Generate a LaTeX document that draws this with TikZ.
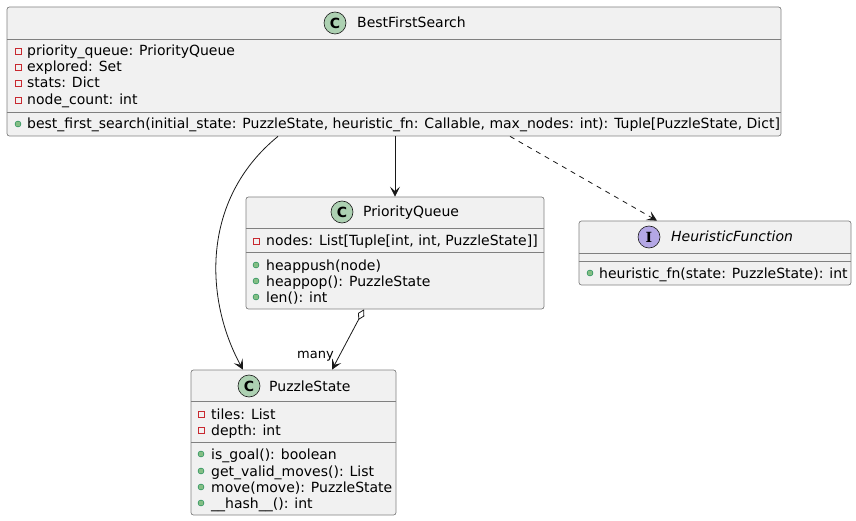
\documentclass[tikz,border=0pt]{standalone}
\usepackage{fontspec}
\setmainfont{DejaVu Sans}
\newfontfamily\spotserif{DejaVu Serif}
\usetikzlibrary{arrows.meta}
\definecolor{boxfill}{HTML}{F1F1F1}
\definecolor{boxline}{HTML}{181818}
\definecolor{spotc}{HTML}{ADD1B2}
\definecolor{spoti}{HTML}{B4A7E5}
\definecolor{privred}{HTML}{C82930}
\definecolor{pubfill}{HTML}{84BE84}
\definecolor{publine}{HTML}{038048}

\begin{document}
\begin{tikzpicture}[x=1pt, y=-1pt,
    classbox/.style={draw=boxline!55, line width=0.7pt, fill=boxfill, rounded corners=2.5pt, inner sep=0pt},
    sepline/.style={draw=boxline!55, line width=0.7pt},
    spot/.style={circle, draw=boxline, line width=0.6pt, minimum size=22pt, inner sep=0pt, font=\fontsize{14}{14}\selectfont\bfseries},
    title/.style={anchor=base west, inner sep=0pt, font=\fontsize{14}{16}\selectfont},
    member/.style={anchor=base west, inner sep=0pt, font=\fontsize{14}{16}\selectfont},
    priv/.style={rectangle, draw=privred, line width=0.6pt, minimum size=6pt, inner sep=0pt},
    pub/.style={circle, draw=publine, fill=pubfill, line width=0.4pt, minimum size=6pt, inner sep=0pt},
    assoc/.style={draw=boxline, line width=0.8pt, -{Stealth[length=10pt, width=10pt, inset=4.5pt]}},
    aggr/.style={draw=boxline, line width=0.8pt, {Diamond[open, length=12pt, width=7pt]}-{Stealth[length=10pt, width=10pt, inset=4.5pt]}}
  ]
    \useasboundingbox (0,0) rectangle (856,521);

    % Clases
    \node[classbox, minimum width=774pt, minimum height=129pt] (bfs) at (394,71.5) {};
    \draw[sepline] (bfs.west |- 0,39) -- (bfs.east |- 0,39);
    \draw[sepline] (bfs.west |- 0,112) -- (bfs.east |- 0,112);
    \node[spot, fill=spotc] (bfs-c) at (335,23) {C};
    \node[title] (bfs-t) at (357,28) {BestFirstSearch};
    \node[priv] (bfs-i1) at (18,51) {};
    \node[member] (bfs-a1) at (27,56) {priority\_queue: PriorityQueue};
    \node[priv] (bfs-i2) at (18,67) {};
    \node[member] (bfs-a2) at (27,72) {explored: Set};
    \node[priv] (bfs-i3) at (18,83) {};
    \node[member] (bfs-a3) at (27,88) {stats: Dict};
    \node[priv] (bfs-i4) at (18,100) {};
    \node[member] (bfs-a4) at (27,105) {node\_count: int};
    \node[pub] (bfs-i5) at (18,124) {};
    \node[member] (bfs-m1) at (27,129) {best\_first\_search(initial\_state: PuzzleState, heuristic\_fn: Callable, max\_nodes: int): Tuple[PuzzleState, Dict]};

    \node[classbox, minimum width=298pt, minimum height=112pt] (pq) at (395,253) {};
    \draw[sepline] (pq.west |- 0,228) -- (pq.east |- 0,228);
    \draw[sepline] (pq.west |- 0,252) -- (pq.east |- 0,252);
    \node[spot, fill=spotc] (pq-c) at (342,212) {C};
    \node[title] (pq-t) at (363,217) {PriorityQueue};
    \node[priv] (pq-i1) at (256,241) {};
    \node[member] (pq-a1) at (266,246) {nodes: List[Tuple[int, int, PuzzleState]]};
    \node[pub] (pq-i2) at (256,265) {};
    \node[member] (pq-m1) at (266,270) {heappush(node)};
    \node[pub] (pq-i3) at (256,281) {};
    \node[member] (pq-m2) at (266,286) {heappop(): PuzzleState};
    \node[pub] (pq-i4) at (256,297) {};
    \node[member] (pq-m3) at (266,302) {len(): int};

    \node[classbox, minimum width=205pt, minimum height=145pt] (ps) at (293.5,442.5) {};
    \draw[sepline] (ps.west |- 0,401) -- (ps.east |- 0,401);
    \draw[sepline] (ps.west |- 0,442) -- (ps.east |- 0,442);
    \node[spot, fill=spotc] (ps-c) at (249,386) {C};
    \node[title] (ps-t) at (269,391) {PuzzleState};
    \node[priv] (ps-i1) at (201,414) {};
    \node[member] (ps-a1) at (211,419) {tiles: List};
    \node[priv] (ps-i2) at (201,430) {};
    \node[member] (ps-a2) at (211,435) {depth: int};
    \node[pub] (ps-i3) at (201,454) {};
    \node[member] (ps-m1) at (211,459) {is\_goal(): boolean};
    \node[pub] (ps-i4) at (201,471) {};
    \node[member] (ps-m2) at (211,476) {get\_valid\_moves(): List};
    \node[pub] (ps-i5) at (201,487) {};
    \node[member] (ps-m3) at (211,492) {move(move): PuzzleState};
    \node[pub] (ps-i6) at (201,503) {};
    \node[member] (ps-m4) at (211,508) {\_\_hash\_\_(): int};

    \node[classbox, minimum width=272pt, minimum height=64pt] (hf) at (715,253) {};
    \draw[sepline] (hf.west |- 0,253) -- (hf.east |- 0,253);
    \draw[sepline] (hf.west |- 0,261) -- (hf.east |- 0,261);
    \node[spot, fill=spoti, font=\fontsize{14}{14}\spotserif\bfseries] (hf-c) at (649,237) {I};
    \node[title, font=\fontsize{14}{16}\selectfont\itshape] (hf-t) at (671,242) {HeuristicFunction};
    \node[pub] (hf-i1) at (590,273) {};
    \node[member] (hf-m1) at (599,278) {heuristic\_fn(state: PuzzleState): int};

    % Conexiones
    \draw[assoc] (bfs.south -| 278,0) .. controls (200,200) and (205,300) .. (ps.north -| 243,0);
    \draw[assoc] (bfs.south -| pq.north) -- (pq.north);
    \draw[assoc, dash pattern=on 5pt off 5pt] (bfs.south -| 510,0) -- (hf.north -| 657,0);
    \draw[aggr] (pq.south -| 364,0) -- (ps.north -| 332,0);
    \node[anchor=base east, inner sep=0pt, font=\fontsize{13}{15}\selectfont] (many) at (334,358) {many};
\end{tikzpicture}
\end{document}
